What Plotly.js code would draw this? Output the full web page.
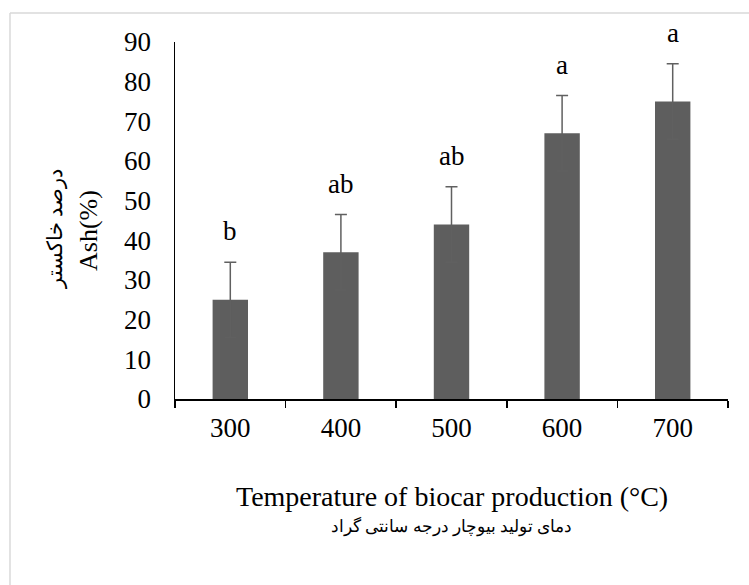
<!DOCTYPE html>
<html>
<head>
<meta charset="utf-8">
<script src="https://cdn.plot.ly/plotly-3.0.1.min.js"></script>
<style>html,body{margin:0;padding:0;background:#fff;} #chart{width:749px;height:585px;}</style>
</head>
<body>
<div id="chart"></div>
<script>
const categories = ['300', '400', '500', '600', '700'];
const ashValues = [25, 37, 44, 67, 75];
const ashErrors = [9.5, 9.5, 9.5, 9.5, 9.5];
const groupLetters = ['b', 'ab', 'ab', 'a', 'a'];

const serif = 'Liberation Serif, Times New Roman, serif';

const letterAnnotations = categories.map((c, i) => ({
  x: i, y: ashValues[i] + ashErrors[i], xref: 'x', yref: 'y',
  text: groupLetters[i], showarrow: false, yanchor: 'bottom', yshift: 14,
  font: {family: serif, size: 27, color: '#000'}
}));

const titleAnnotations = [
  {xref: 'paper', yref: 'paper', x: -0.1555, y: 0.4706, text: 'Ash(%)', textangle: -90,
   xanchor: 'center', yanchor: 'middle',
   showarrow: false, font: {family: serif, size: 26, color: '#000'}},
  {xref: 'paper', yref: 'paper', x: -0.217, y: 0.476, text: 'درصد خاکستر', textangle: -90,
   xanchor: 'center', yanchor: 'middle',
   showarrow: false, font: {family: serif, size: 21, color: '#000'}},
  {xref: 'paper', yref: 'paper', x: 0.5, y: -0.2745, text: 'Temperature of biocar production (°C)',
   xanchor: 'center', yanchor: 'middle',
   showarrow: false, font: {family: serif, size: 28, color: '#000'}},
  {xref: 'paper', yref: 'paper', x: 0.5, y: -0.3585, text: 'دمای تولید بیوچار درجه سانتی گراد',
   xanchor: 'center', yanchor: 'middle',
   showarrow: false, font: {family: serif, size: 17, color: '#000'}}
];

const data = [{
  type: 'bar',
  x: categories,
  y: ashValues,
  marker: {color: '#5e5e5e'},
  error_y: {type: 'data', array: ashErrors, visible: true, color: '#606060', thickness: 1.5, width: 6},
  hoverinfo: 'x+y'
}];

const layout = {
  width: 749, height: 585,
  margin: {l: 175, r: 21, t: 42, b: 186},
  paper_bgcolor: '#fff', plot_bgcolor: '#fff',
  showlegend: false,
  bargap: 0.68,
  xaxis: {
    type: 'category',
    showline: true, linecolor: '#000', linewidth: 1.5,
    ticks: 'outside', tickson: 'boundaries', ticklen: 7, tickcolor: '#000', tickwidth: 1.5,
    tickfont: {family: serif, size: 27, color: '#000'},
    ticklabelstandoff: 4,
    showgrid: false, zeroline: false
  },
  yaxis: {
    range: [0, 90], dtick: 10,
    showline: true, linecolor: '#000', linewidth: 1.5,
    ticks: '', showgrid: false, zeroline: false,
    tickfont: {family: serif, size: 27, color: '#000'},
    ticklabelstandoff: 17
  },
  annotations: letterAnnotations.concat(titleAnnotations),
  shapes: [
    {type: 'line', xref: 'paper', yref: 'paper', x0: -0.2984, x1: 1.05, y0: 1.081, y1: 1.081,
     line: {color: '#d9d9d9', width: 1.5}},
    {type: 'line', xref: 'paper', yref: 'paper', x0: -0.2984, x1: -0.2984, y0: -0.53, y1: 1.081,
     line: {color: '#d9d9d9', width: 1.5}}
  ]
};

Plotly.newPlot('chart', data, layout, {displayModeBar: false, staticPlot: true});
</script>
</body>
</html>
